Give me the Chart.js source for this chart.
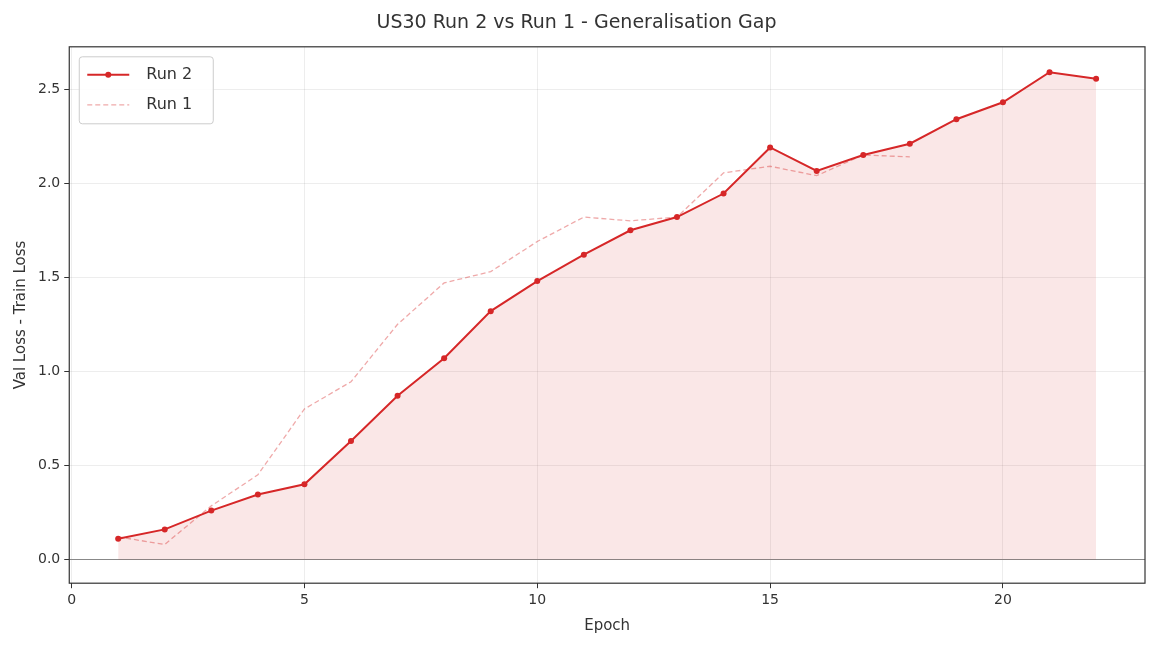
<!DOCTYPE html>
<html><head><meta charset="utf-8">
<script src="https://cdn.jsdelivr.net/npm/chart.js@4"></script>
<style>html,body{margin:0;padding:0;background:#fff}</style>
</head><body><canvas id="c" width="1158" height="651" style="width:1158px;height:651px;display:block"></canvas>
<script>
const epochs2 = [1,2,3,4,5,6,7,8,9,10,11,12,13,14,15,16,17,18,19,20,21,22];
const run2 = [0.11,0.16,0.26,0.345,0.40,0.63,0.87,1.07,1.32,1.48,1.62,1.75,1.82,1.945,2.19,2.065,2.15,2.21,2.34,2.43,2.59,2.555];
const epochs1 = [1,2,3,4,5,6,7,8,9,10,11,12,13,14,15,16,17,18];
const run1 = [0.12,0.08,0.285,0.45,0.80,0.945,1.25,1.47,1.53,1.69,1.82,1.80,1.82,2.055,2.09,2.04,2.15,2.14];
const xTicks = [0,5,10,15,20];
const yTicks = [0,0.5,1.0,1.5,2.0,2.5];

const font = "'DejaVu Sans', sans-serif";
Chart.defaults.font.family = font;
Chart.defaults.color = '#333';

const frame = {
  id:'frame',
  beforeDatasetsDraw(ch){
    const {ctx, chartArea:a, scales:{y}} = ch;
    ctx.save();
    const z = y.getPixelForValue(0);
    ctx.strokeStyle='#888'; ctx.lineWidth=1.2;
    ctx.beginPath(); ctx.moveTo(a.left,z); ctx.lineTo(a.right,z); ctx.stroke();
    ctx.restore();
  },
  afterDraw(ch){
    const {ctx, chartArea:a} = ch;
    ctx.save(); ctx.strokeStyle='#333'; ctx.lineWidth=1.2;
    ctx.strokeRect(a.left,a.top,a.right-a.left,a.bottom-a.top);
    // legend
    const x0=a.left+10, y0=a.top+10;
    ctx.fillStyle='rgba(255,255,255,0.85)'; ctx.strokeStyle='#ccc'; ctx.lineWidth=1;
    ctx.beginPath(); ctx.roundRect(x0,y0,134,67,3); ctx.fill(); ctx.stroke();
    ctx.font="16px "+font; ctx.fillStyle='#333'; ctx.textBaseline='middle';
    ctx.strokeStyle='#d62728'; ctx.lineWidth=2;
    ctx.beginPath(); ctx.moveTo(x0+8,y0+18); ctx.lineTo(x0+50,y0+18); ctx.stroke();
    ctx.fillStyle='#d62728'; ctx.beginPath(); ctx.arc(x0+29,y0+18,3,0,Math.PI*2); ctx.fill();
    ctx.strokeStyle='rgba(214,39,40,0.4)'; ctx.lineWidth=1.3; ctx.setLineDash([5,3]);
    ctx.beginPath(); ctx.moveTo(x0+8,y0+48); ctx.lineTo(x0+50,y0+48); ctx.stroke(); ctx.setLineDash([]);
    ctx.fillStyle='#333';
    ctx.fillText('Run 2',x0+67,y0+18); ctx.fillText('Run 1',x0+67,y0+48);
    ctx.restore();
  }
};

new Chart(document.getElementById('c'), {
  type:'line',
  data:{datasets:[
    {label:'Run 2', data:epochs2.map((x,i)=>({x,y:run2[i]})), borderColor:'#d62728', backgroundColor:'#d62728',
     borderWidth:2, pointRadius:3, pointBackgroundColor:'#d62728', pointBorderWidth:0, fill:false, tension:0},
    {label:'Run 1', data:epochs1.map((x,i)=>({x,y:run1[i]})), borderColor:'rgba(214,39,40,0.4)',
     borderWidth:1.3, borderDash:[5,3], pointRadius:0, fill:false, tension:0},
    {label:'fill', data:epochs2.map((x,i)=>({x,y:run2[i]})), borderWidth:0, pointRadius:0,
     backgroundColor:'rgba(214,39,40,0.11)', fill:'origin', tension:0}
  ]},
  options:{
    responsive:false, animation:false, devicePixelRatio:1,
    layout:{padding:{left:8,right:13,top:0,bottom:12}},
    plugins:{
      title:{display:true,text:'US30 Run 2 vs Run 1 - Generalisation Gap',font:{size:19,weight:'normal',family:font},color:'#333',padding:{top:12,bottom:12}},
      legend:{display:false},
      tooltip:{enabled:false}
    },
    scales:{
      x:{type:'linear',min:-0.05,max:23.05,
        afterBuildTicks(s){s.ticks=xTicks.map(v=>({value:v}));},
        ticks:{font:{size:14},color:'#333',padding:4},
        grid:{color:'rgba(0,0,0,0.07)',tickColor:'#333',tickLength:5},
        border:{display:false},
        title:{display:true,text:'Epoch',font:{size:15},color:'#333'}},
      y:{min:-0.126,max:2.725,
        afterBuildTicks(s){s.ticks=yTicks.map(v=>({value:v}));},
        ticks:{font:{size:14},color:'#333',callback:v=>v.toFixed(1),padding:4},
        grid:{color:'rgba(0,0,0,0.07)',tickColor:'#333',tickLength:5},
        border:{display:false},
        title:{display:true,text:'Val Loss - Train Loss',font:{size:15},color:'#333'}}
    }
  },
  plugins:[frame]
});
</script></body></html>
